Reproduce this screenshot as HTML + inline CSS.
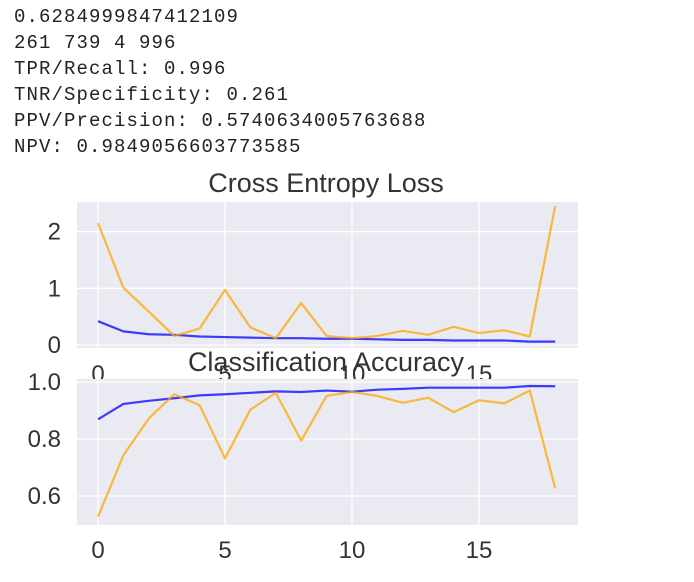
<!DOCTYPE html>
<html><head><meta charset="utf-8"><style>
html,body{margin:0;padding:0;background:#fff;}
svg{display:block;}
.mono{font-family:"Liberation Mono",monospace;font-size:19px;fill:#222;letter-spacing:1.1px;}
.tick{font-family:"Liberation Sans",sans-serif;font-size:24px;fill:#333;}
.title{font-family:"Liberation Sans",sans-serif;font-size:27px;fill:#333;}
</style></head><body>
<svg id="chart" width="694" height="582" xmlns="http://www.w3.org/2000/svg">
<g>
<text class="mono" x="14" y="22">0.6284999847412109</text>
<text class="mono" x="14" y="48">261 739 4 996</text>
<text class="mono" x="14" y="74">TPR/Recall: 0.996</text>
<text class="mono" x="14" y="100">TNR/Specificity: 0.261</text>
<text class="mono" x="14" y="126">PPV/Precision: 0.5740634005763688</text>
<text class="mono" x="14" y="152">NPV: 0.9849056603773585</text>
</g>
<g id="plots"></g>
</svg>
<script>
const epochs = [0,1,2,3,4,5,6,7,8,9,10,11,12,13,14,15,16,17,18];
const trainLoss = [0.42,0.24,0.19,0.18,0.15,0.14,0.13,0.12,0.12,0.11,0.11,0.10,0.09,0.09,0.08,0.08,0.08,0.06,0.06];
const valLoss = [2.15,1.01,0.59,0.16,0.29,0.97,0.31,0.12,0.74,0.16,0.12,0.16,0.25,0.18,0.32,0.21,0.26,0.15,2.45];
const trainAcc = [0.869,0.923,0.934,0.943,0.953,0.957,0.962,0.967,0.965,0.970,0.966,0.973,0.976,0.980,0.980,0.980,0.980,0.986,0.985];
const valAcc = [0.527,0.743,0.872,0.957,0.919,0.732,0.903,0.962,0.794,0.951,0.965,0.951,0.927,0.945,0.894,0.936,0.925,0.970,0.627];
const xTicks = [0,5,10,15];
const lossTicks = [0,1,2];
const accTicks = [0.6,0.8,1.0];
const accTickLabels = ["0.6","0.8","1.0"];

const NS = "http://www.w3.org/2000/svg";
const g = document.getElementById('plots');
function mk(tag, attrs, parent){const e=document.createElementNS(NS,tag);for(const k in attrs)e.setAttribute(k,attrs[k]);(parent||g).appendChild(e);return e;}
const xS = v => 98 + v*25.4;
const yLoss = v => 345 - v*56.7;
const yAcc = v => 382 + (1.0 - v)*285;

function panel(name, top, bottom, yS, yt, ytl, s1, s2, xLabelY){
  const grp = mk('g',{});
  
  
  const bg = mk('rect',{x:77,y:top,width:501,height:bottom-top,fill:'#eaeaf2'},grp);
  
  
  xTicks.forEach(t=>{
    const l = mk('line',{x1:xS(t),x2:xS(t),y1:top,y2:bottom,stroke:'#fff','stroke-width':1.3},grp);
    
    
    const tx = mk('text',{x:xS(t),y:xLabelY,'text-anchor':'middle',class:'tick'},grp);
    tx.textContent = t;
    
    
  });
  yt.forEach((t,i)=>{
    const l = mk('line',{x1:77,x2:578,y1:yS(t),y2:yS(t),stroke:'#fff','stroke-width':1.3},grp);
    
    
    const tx = mk('text',{x:61,y:yS(t)+8,'text-anchor':'end',class:'tick'},grp);
    tx.textContent = ytl[i];
    
    
  });
  [[s1,'rgba(0,0,255,0.75)','train-line'],[s2,'rgba(255,165,0,0.75)','validation-line']].forEach(([s,c,n])=>{
    const p = mk('polyline',{points:epochs.map((e,i)=>xS(e)+','+yS(s[i])).join(' '),fill:'none',stroke:c,'stroke-width':2.2,'stroke-linejoin':'round'},grp);
    
    
  });
  return grp;
}
panel('loss-plot',202,348,yLoss,lossTicks,lossTicks.map(String),trainLoss,valLoss,382);
const t1 = mk('text',{x:326,y:192,'text-anchor':'middle',class:'title'});
t1.textContent='Cross Entropy Loss';


panel('accuracy-plot',379,525,yAcc,accTicks,accTickLabels,trainAcc,valAcc,558);
const t2 = mk('text',{x:326,y:371,'text-anchor':'middle',class:'title'});
t2.textContent='Classification Accuracy';


</script>
</body></html>
